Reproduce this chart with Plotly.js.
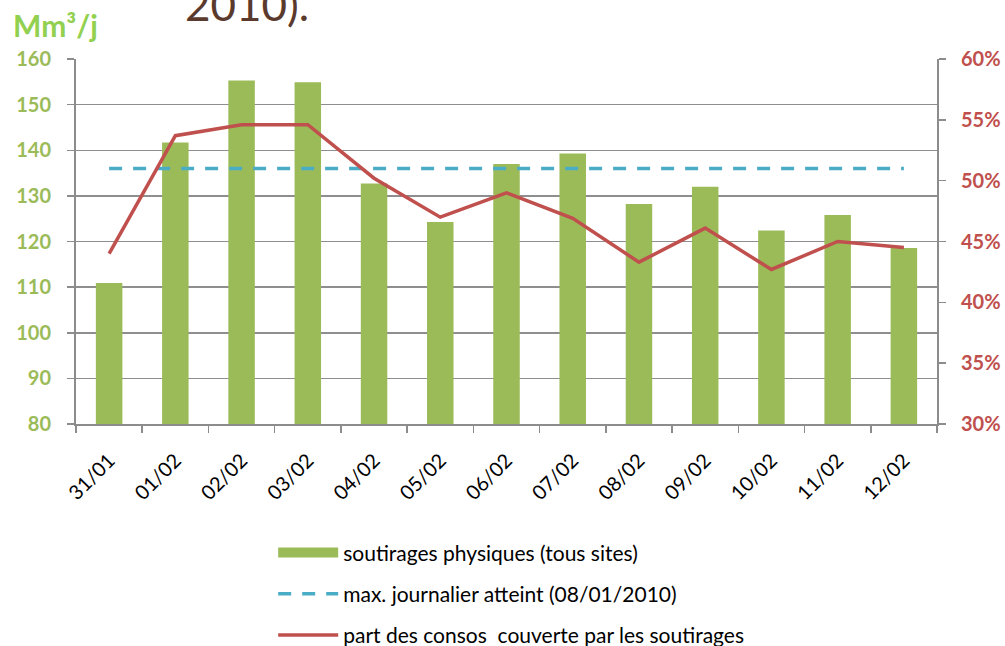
<!DOCTYPE html>
<html>
<head>
<meta charset="utf-8">
<script src="https://cdn.plot.ly/plotly-3.0.1.min.js"></script>
<style>html,body{margin:0;padding:0;background:#fff;}#chart{width:1005px;height:646px;}</style>
</head>
<body>
<div id="chart"></div>
<script>
const categories = ["31/01","01/02","02/02","03/02","04/02","05/02","06/02","07/02","08/02","09/02","10/02","11/02","12/02"];
const soutirages = [110.9,141.7,155.3,154.9,132.7,124.3,137.0,139.3,128.2,132.0,122.4,125.8,118.6];
const maxJournalier = 136;
const partCouverte = [0.440,0.537,0.546,0.546,0.502,0.470,0.490,0.469,0.433,0.461,0.427,0.450,0.445];
const leftTicks = [80,90,100,110,120,130,140,150,160];
const rightTicks = [0.30,0.35,0.40,0.45,0.50,0.55,0.60];

const names = [
  "soutirages physiques (tous sites)",
  "max. journalier atteint (08/01/2010)",
  "part des consos  couverte par les soutirages"
];
const GREEN = "#9BBB59", BLUE = "#4BACC6", RED = "#C0504D";
const FONT = "Lato, 'Liberation Sans', sans-serif";

const traces = [
  {type:"bar", x:categories, y:soutirages, marker:{color:GREEN}, showlegend:false, hoverinfo:"x+y"},
  {type:"scatter", mode:"lines", x:[null], y:[null], name:names[0], line:{color:GREEN, width:13}, legendgroup:"a", showlegend:true},
  {type:"scatter", mode:"lines", x:categories, y:categories.map(()=>maxJournalier), name:names[1],
   line:{color:BLUE, width:3.5, dash:"13px,11px"}, legendgroup:"b"},
  {type:"scatter", mode:"lines", x:categories, y:partCouverte, name:names[2], yaxis:"y2",
   line:{color:RED, width:3.5}, legendgroup:"c"}
];

const layout = {
  width:1005, height:646,
  margin:{l:76, r:68, t:59, b:222, autoexpand:false},
  paper_bgcolor:"#fff", plot_bgcolor:"#fff",
  font:{family:FONT, size:17, color:"#000"},
  bargap:0.6,
  xaxis:{type:"category", tickangle:-45, tickson:"boundaries", ticks:"outside", ticklen:7, tickwidth:1.5, tickcolor:"#8C8C8C",
         showline:true, linecolor:"#8C8C8C", linewidth:2, showgrid:false, tickfont:{family:FONT, size:20, color:"#000"},
         range:[-0.5,12.5], ticklabelstandoff:15},
  yaxis:{range:[80,160], tickvals:leftTicks, ticks:"outside", ticklen:7, tickwidth:1.5, tickcolor:"#8C8C8C",
         showline:true, linecolor:"#8C8C8C", linewidth:2, showgrid:true, gridcolor:"#8E8E8E", gridwidth:1.5,
         zeroline:false, tickfont:{family:FONT, size:20, color:GREEN, weight:"bold"}, ticklabelstandoff:12},
  yaxis2:{overlaying:"y", side:"right", range:[0.30,0.60], tickvals:rightTicks, tickformat:".0%",
          ticks:"outside", ticklen:7, tickwidth:1.5, tickcolor:"#8C8C8C", showline:true, linecolor:"#8C8C8C", linewidth:2,
          showgrid:false, zeroline:false, tickfont:{family:FONT, size:20, color:RED, weight:"bold"}, ticklabelstandoff:11},
  showlegend:true,
  legend:{orientation:"v", xref:"paper", x:0.229, xanchor:"left", yref:"container", y:0.176, yanchor:"top",
          traceorder:"grouped", tracegroupgap:11,
          itemwidth:60, font:{family:FONT, size:21, color:"#000"}, bgcolor:"rgba(0,0,0,0)"},
  annotations:[
    {text:"Mm³/j", xref:"paper", yref:"paper", x:-0.024, y:1.093, xanchor:"center", yanchor:"middle", showarrow:false,
     font:{family:FONT, size:30, color:"#92D050", weight:"bold"}},
    {text:"2010).", xref:"paper", yref:"paper", x:0.199, y:1.150, xanchor:"center", yanchor:"middle", showarrow:false,
     font:{family:FONT, size:44, color:"#5B3A2E"}}
  ]
};

Plotly.newPlot("chart", traces, layout, {displayModeBar:false, staticPlot:true});
</script>
</body>
</html>
